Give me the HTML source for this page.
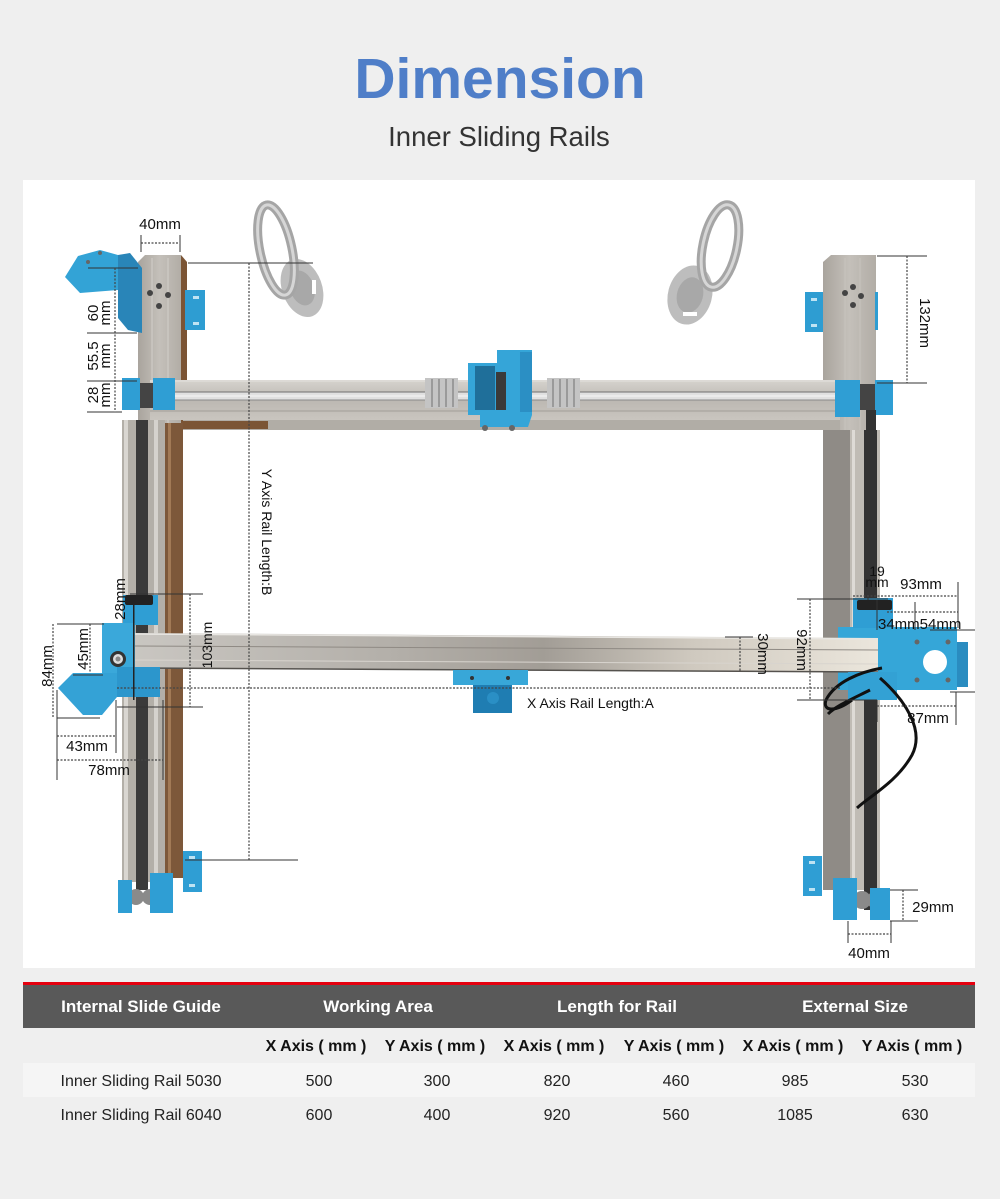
<!DOCTYPE html>
<html>
<head>
<meta charset="utf-8">
<style>
html,body{margin:0;padding:0;background:#efefef;}
body{width:1000px;height:1199px;overflow:hidden;}
svg{display:block;}
text{font-family:"Liberation Sans",Arial,sans-serif;}
</style>
</head>
<body>
<svg width="1000" height="1199" viewBox="0 0 1000 1199" xmlns="http://www.w3.org/2000/svg">
<defs>
<linearGradient id="railB" x1="0" y1="0" x2="1" y2="0">
<stop offset="0" stop-color="#c9c6c1"/>
<stop offset="0.35" stop-color="#b3afa9"/>
<stop offset="0.55" stop-color="#a29d96"/>
<stop offset="0.75" stop-color="#cfc9bf"/>
<stop offset="1" stop-color="#ebe6dc"/>
</linearGradient>
<linearGradient id="railT" x1="0" y1="0" x2="0" y2="1">
<stop offset="0" stop-color="#d6d3ce"/>
<stop offset="0.5" stop-color="#bcb8b2"/>
<stop offset="1" stop-color="#c9c5bf"/>
</linearGradient>
<linearGradient id="colL" x1="0" y1="0" x2="1" y2="0">
<stop offset="0" stop-color="#a9a49d"/>
<stop offset="0.5" stop-color="#c4c0ba"/>
<stop offset="1" stop-color="#b2ada6"/>
</linearGradient>
</defs>

<!-- Title -->
<text x="500" y="98" text-anchor="middle" font-size="57" font-weight="bold" fill="#4f7ec8">Dimension</text>
<text x="499" y="146" text-anchor="middle" font-size="27.5" fill="#333">Inner Sliding Rails</text>

<!-- White panel -->
<rect x="23" y="180" width="952" height="788" fill="#ffffff"/>

<!-- Mirror mounts (gray) -->
<ellipse cx="302" cy="288" rx="20" ry="30" transform="rotate(-20 302 288)" fill="#bdbdbd"/>
<ellipse cx="302" cy="288" rx="12" ry="18" transform="rotate(-20 302 288)" fill="#a8a8a8"/>
<rect x="312" y="280" width="4" height="14" fill="#fff"/>
<ellipse cx="276" cy="250" rx="16" ry="46" transform="rotate(-12 276 250)" fill="none" stroke="#a5a5a5" stroke-width="9"/>
<ellipse cx="276" cy="250" rx="16" ry="46" transform="rotate(-12 276 250)" fill="none" stroke="#d6d6d6" stroke-width="3"/>

<ellipse cx="690" cy="295" rx="22" ry="30" transform="rotate(15 690 295)" fill="#bdbdbd"/>
<ellipse cx="690" cy="295" rx="13" ry="18" transform="rotate(15 690 295)" fill="#a8a8a8"/>
<rect x="683" y="312" width="14" height="4" fill="#fff"/>
<ellipse cx="720" cy="246" rx="17" ry="42" transform="rotate(12 720 246)" fill="none" stroke="#a5a5a5" stroke-width="9"/>
<ellipse cx="720" cy="246" rx="17" ry="42" transform="rotate(12 720 246)" fill="none" stroke="#d6d6d6" stroke-width="3"/>

<!-- Left column top -->
<polygon points="138,262 145,255 181,255 181,430 138,430" fill="url(#colL)"/>
<polygon points="181,255 187,262 187,430 181,430" fill="#7b5535"/>
<line x1="152" y1="258" x2="152" y2="430" stroke="#d2cfca" stroke-width="1"/>
<line x1="168" y1="258" x2="168" y2="430" stroke="#d2cfca" stroke-width="1"/>
<circle cx="150" cy="293" r="3" fill="#444"/>
<circle cx="159" cy="286" r="3" fill="#444"/>
<circle cx="168" cy="295" r="3" fill="#444"/>
<circle cx="159" cy="306" r="3" fill="#444"/>

<!-- Left column lower -->
<rect x="122" y="420" width="43" height="462" fill="#b3afa8"/>
<rect x="124" y="420" width="4" height="462" fill="#d9d6d1"/>
<rect x="154" y="420" width="4" height="462" fill="#d5d2cd"/>
<rect x="136" y="420" width="12" height="470" fill="#3a3a3a"/>
<rect x="165" y="423" width="18" height="455" fill="#7d583a"/>
<rect x="168" y="423" width="3" height="455" fill="#a27a56"/>

<!-- Right column -->
<polygon points="823,262 831,255 876,255 876,430 823,430" fill="url(#colL)"/>
<line x1="845" y1="258" x2="845" y2="430" stroke="#c8c4be"/>
<line x1="860" y1="258" x2="860" y2="430" stroke="#c8c4be"/>
<circle cx="845" cy="293" r="3" fill="#444"/>
<circle cx="853" cy="287" r="3" fill="#444"/>
<circle cx="861" cy="296" r="3" fill="#444"/>
<circle cx="853" cy="305" r="3" fill="#444"/>
<rect x="823" y="430" width="27" height="460" fill="#8f8b86"/>
<rect x="850" y="430" width="30" height="460" fill="#c0bcb5"/>
<rect x="864" y="430" width="13" height="480" fill="#333"/>
<rect x="852" y="430" width="3" height="460" fill="#dedbd6"/>

<!-- Top X rail -->
<rect x="150" y="380" width="690" height="40" fill="url(#railT)"/>
<line x1="150" y1="381" x2="840" y2="381" stroke="#e4e2de"/>
<rect x="183" y="420" width="657" height="10" fill="#b1ada6"/>
<rect x="183" y="421" width="85" height="8" fill="#7b5535"/>
<rect x="150" y="392" width="690" height="8" fill="#e0e0e0"/>
<line x1="150" y1="392" x2="840" y2="392" stroke="#707070"/>
<line x1="150" y1="400" x2="840" y2="400" stroke="#8a8a8a"/>
<line x1="150" y1="396" x2="840" y2="396" stroke="#f6f6f6"/>
<line x1="150" y1="411" x2="840" y2="411" stroke="#a29e98"/>

<!-- Couplings -->
<rect x="425" y="378" width="33" height="30" fill="#c4c4c4"/>
<g stroke="#8d8d8d" stroke-width="1.5"><line x1="432" y1="379" x2="432" y2="407"/><line x1="439" y1="379" x2="439" y2="407"/><line x1="446" y1="379" x2="446" y2="407"/><line x1="453" y1="379" x2="453" y2="407"/></g>
<rect x="547" y="378" width="33" height="30" fill="#c4c4c4"/>
<g stroke="#8d8d8d" stroke-width="1.5"><line x1="553" y1="379" x2="553" y2="407"/><line x1="560" y1="379" x2="560" y2="407"/><line x1="567" y1="379" x2="567" y2="407"/><line x1="574" y1="379" x2="574" y2="407"/></g>

<!-- Top middle carriage -->
<polygon points="468,363 497,363 497,350 532,350 532,415 528,427 480,427 480,415 468,415" fill="#35a5d8"/>
<rect x="475" y="366" width="20" height="44" fill="#1f6f9a"/>
<rect x="496" y="372" width="10" height="38" fill="#3a3a3a"/>
<rect x="520" y="352" width="12" height="60" fill="#2b8fc4"/>
<circle cx="485" cy="428" r="3" fill="#666"/>
<circle cx="512" cy="428" r="3" fill="#666"/>

<!-- Top rail end blocks -->
<rect x="140" y="383" width="13" height="25" fill="#444"/>
<rect x="122" y="378" width="18" height="32" fill="#2f9ed4"/>
<rect x="153" y="378" width="22" height="32" fill="#2f9ed4"/>
<rect x="860" y="384" width="15" height="26" fill="#444"/>
<rect x="835" y="380" width="25" height="37" fill="#2f9ed4"/>
<rect x="875" y="380" width="18" height="35" fill="#2f9ed4"/>
<rect x="866" y="410" width="10" height="20" fill="#333"/>

<!-- Brackets -->
<rect x="185" y="290" width="20" height="40" fill="#2e9dd2"/>
<rect x="193" y="296" width="6" height="3" fill="#bfe3f3"/>
<rect x="193" y="322" width="6" height="3" fill="#bfe3f3"/>
<rect x="805" y="292" width="18" height="40" fill="#2e9dd2"/>
<rect x="811" y="298" width="6" height="3" fill="#bfe3f3"/>
<rect x="811" y="324" width="6" height="3" fill="#bfe3f3"/>
<rect x="875" y="292" width="3" height="38" fill="#2e9dd2"/>

<!-- Top-left mirror mount blue -->
<polygon points="65,277 78,256 100,250 118,255 118,290 80,293" fill="#33a3d6"/>
<polygon points="118,255 130,253 142,268 142,333 128,330 118,318" fill="#2985b8"/>
<circle cx="88" cy="262" r="2" fill="#666"/>
<circle cx="100" cy="253" r="2" fill="#666"/>

<!-- Bottom end parts left -->
<circle cx="136" cy="897" r="8" fill="#8a8a8a"/>
<circle cx="150" cy="897" r="8" fill="#8a8a8a"/>
<rect x="118" y="880" width="14" height="33" fill="#2f9ed4"/>
<rect x="150" y="873" width="23" height="40" fill="#2f9ed4"/>
<rect x="183" y="851" width="19" height="41" fill="#2f9ed4"/>
<rect x="189" y="856" width="6" height="3" fill="#bfe3f3"/>
<rect x="189" y="884" width="6" height="3" fill="#bfe3f3"/>

<!-- Bottom end parts right -->
<circle cx="862" cy="900" r="9" fill="#8a8a8a"/>
<circle cx="876" cy="900" r="9" fill="#8a8a8a"/>
<rect x="803" y="856" width="19" height="40" fill="#2f9ed4"/>
<rect x="809" y="861" width="6" height="3" fill="#bfe3f3"/>
<rect x="809" y="888" width="6" height="3" fill="#bfe3f3"/>
<rect x="833" y="878" width="24" height="42" fill="#2f9ed4"/>
<rect x="870" y="888" width="20" height="32" fill="#2f9ed4"/>

<!-- Right carriage plate -->
<rect x="838" y="627" width="119" height="63" fill="#35a6d8"/>
<rect x="957" y="642" width="11" height="45" fill="#2a8cc0"/>
<circle cx="935" cy="662" r="12" fill="#ffffff"/>
<circle cx="917" cy="642" r="2.5" fill="#666"/>
<circle cx="948" cy="642" r="2.5" fill="#666"/>
<circle cx="917" cy="680" r="2.5" fill="#666"/>
<circle cx="948" cy="680" r="2.5" fill="#666"/>
<rect x="853" y="598" width="40" height="30" fill="#2f9ed4"/>
<rect x="857" y="600" width="35" height="10" rx="2" fill="#222"/>

<!-- Bottom X rail -->
<polygon points="135,633 878,638 878,672 135,668" fill="url(#railB)"/>
<line x1="135" y1="634" x2="878" y2="639" stroke="#e8e6e2" stroke-width="1.5"/>
<line x1="135" y1="646" x2="878" y2="650" stroke="#8f8a84" stroke-width="1"/>
<line x1="135" y1="660" x2="878" y2="664" stroke="#d8d4ce" stroke-width="1"/>
<line x1="135" y1="668" x2="878" y2="672" stroke="#55524e" stroke-width="1.5"/>

<!-- Blue under rail right -->
<rect x="848" y="672" width="49" height="28" fill="#33a1d4"/>

<!-- Belt right -->
<path d="M 882 668 C 860 672 835 682 826 700 C 822 712 836 712 852 700" fill="none" stroke="#111" stroke-width="3"/>
<path d="M 880 678 C 905 700 925 730 912 755 C 897 782 870 796 857 808" fill="none" stroke="#111" stroke-width="3"/>
<path d="M 870 690 C 850 700 836 706 828 714" fill="none" stroke="#111" stroke-width="3"/>

<!-- Left lower carriage -->
<rect x="123" y="595" width="35" height="30" fill="#2f9ed4"/>
<rect x="125" y="595" width="28" height="10" rx="2" fill="#222"/>
<rect x="102" y="623" width="33" height="52" fill="#3aa8da"/>
<circle cx="118" cy="659" r="8" fill="#333"/>
<circle cx="118" cy="659" r="5" fill="#ddd"/>
<circle cx="118" cy="659" r="2.5" fill="#888"/>
<rect x="117" y="667" width="43" height="30" fill="#2c96cc"/>
<polygon points="58,688 73,673 117,673 117,697 102,715 83,715" fill="#34a2d6"/>
<rect x="133" y="595" width="1.5" height="105" fill="#222"/>

<!-- Small carriage bottom rail -->
<rect x="453" y="670" width="75" height="15" fill="#38a7d8"/>
<rect x="473" y="685" width="39" height="28" fill="#1f7db2"/>
<circle cx="493" cy="698" r="6" fill="#2a8fc5"/>
<circle cx="472" cy="678" r="2" fill="#333"/>
<circle cx="508" cy="678" r="2" fill="#333"/>

<!-- ===== Dimension lines ===== -->
<g stroke="#333" stroke-width="1" fill="none">
<!-- 40mm top -->
<line x1="141" y1="235" x2="141" y2="252"/>
<line x1="180" y1="235" x2="180" y2="252"/>
<!-- Y axis -->
<line x1="188" y1="263" x2="313" y2="263"/>
<line x1="185" y1="860" x2="298" y2="860"/>
<line x1="88" y1="268" x2="138" y2="268"/>
<!-- left top dims -->
<line x1="87" y1="333" x2="137" y2="333"/>
<line x1="87" y1="381" x2="137" y2="381"/>
<line x1="87" y1="412" x2="122" y2="412"/>
<!-- left lower -->
<line x1="130" y1="594" x2="203" y2="594"/>
<line x1="57" y1="624" x2="104" y2="624"/>
<line x1="57" y1="718" x2="100" y2="718"/>
<line x1="73" y1="675" x2="103" y2="675"/>
<line x1="117" y1="707" x2="203" y2="707"/>
<line x1="57" y1="690" x2="57" y2="780"/>
<line x1="116" y1="700" x2="116" y2="753"/>
<line x1="163" y1="700" x2="163" y2="780"/>
<!-- 30mm -->
<line x1="725" y1="637" x2="753" y2="637"/>
<!-- 132mm -->
<line x1="877" y1="256" x2="927" y2="256"/>
<line x1="877" y1="383" x2="927" y2="383"/>
<!-- right mid -->
<line x1="868" y1="582" x2="868" y2="600"/>
<line x1="877" y1="600" x2="877" y2="630"/>
<line x1="958" y1="582" x2="958" y2="628"/>
<line x1="915" y1="602" x2="915" y2="630"/>
<line x1="797" y1="599" x2="888" y2="599"/>
<line x1="930" y1="630" x2="975" y2="630"/>
<line x1="797" y1="700" x2="877" y2="700"/>
<line x1="950" y1="692" x2="975" y2="692"/>
<line x1="956" y1="692" x2="956" y2="725"/>
<line x1="877" y1="700" x2="877" y2="722"/>
<!-- 29mm / 40mm bottom -->
<line x1="890" y1="890" x2="918" y2="890"/>
<line x1="890" y1="921" x2="918" y2="921"/>
<line x1="848" y1="921" x2="848" y2="943"/>
<line x1="891" y1="921" x2="891" y2="943"/>
</g>
<g stroke="#444" stroke-width="1.2" fill="none" stroke-dasharray="2,1.5">
<line x1="141" y1="243" x2="180" y2="243"/>
<line x1="249" y1="263" x2="249" y2="860"/>
<line x1="115" y1="268" x2="115" y2="412"/>
<line x1="53" y1="624" x2="53" y2="718"/>
<line x1="90" y1="624" x2="90" y2="673"/>
<line x1="190" y1="594" x2="190" y2="707"/>
<line x1="57" y1="736" x2="116" y2="736"/>
<line x1="57" y1="760" x2="163" y2="760"/>
<line x1="117" y1="688" x2="840" y2="688"/>
<line x1="740" y1="637" x2="740" y2="672"/>
<line x1="907" y1="256" x2="907" y2="383"/>
<line x1="853" y1="596" x2="958" y2="596"/>
<line x1="887" y1="612" x2="958" y2="612"/>
<line x1="810" y1="599" x2="810" y2="700"/>
<line x1="877" y1="706" x2="956" y2="706"/>
<line x1="903" y1="890" x2="903" y2="921"/>
<line x1="848" y1="934" x2="891" y2="934"/>
</g>

<!-- Dimension texts -->
<g font-size="15" fill="#111">
<text x="160" y="229" text-anchor="middle">40mm</text>
<text transform="translate(98,313) rotate(-90)" text-anchor="middle">60</text>
<text transform="translate(110,313) rotate(-90)" text-anchor="middle">mm</text>
<text transform="translate(98,356) rotate(-90)" text-anchor="middle">55.5</text>
<text transform="translate(110,356) rotate(-90)" text-anchor="middle">mm</text>
<text transform="translate(98,395) rotate(-90)" text-anchor="middle">28</text>
<text transform="translate(110,395) rotate(-90)" text-anchor="middle">mm</text>
<text transform="translate(125,599) rotate(-90)" text-anchor="middle">28mm</text>
<text transform="translate(52,666) rotate(-90)" text-anchor="middle">84mm</text>
<text transform="translate(88,649) rotate(-90)" text-anchor="middle">45mm</text>
<text transform="translate(212,645) rotate(-90)" text-anchor="middle" font-size="14">103mm</text>
<text x="87" y="751" text-anchor="middle">43mm</text>
<text x="109" y="775" text-anchor="middle">78mm</text>
<text transform="translate(262,532) rotate(90)" text-anchor="middle" font-size="14">Y Axis Rail Length:B</text>
<text x="527" y="708" font-size="14">X Axis Rail Length:A</text>
<text transform="translate(758,654) rotate(90)" text-anchor="middle">30mm</text>
<text transform="translate(797,650) rotate(90)" text-anchor="middle">92mm</text>
<text transform="translate(920,323) rotate(90)" text-anchor="middle">132mm</text>
<text x="877" y="576" text-anchor="middle" font-size="14">19</text>
<text x="877" y="587" text-anchor="middle" font-size="14">mm</text>
<text x="921" y="589" text-anchor="middle">93mm</text>
<text x="878" y="629">34mm54mm</text>
<text x="928" y="723" text-anchor="middle">87mm</text>
<text x="933" y="912" text-anchor="middle">29mm</text>
<text x="869" y="958" text-anchor="middle">40mm</text>
</g>

<!-- ===== Table ===== -->
<rect x="23" y="982" width="952" height="3" fill="#e5000f"/>
<rect x="23" y="985" width="952" height="43" fill="#595959"/>
<rect x="23" y="1063" width="952" height="34" fill="#f5f5f5"/>
<g font-size="17" font-weight="bold" fill="#ffffff" text-anchor="middle">
<text x="141" y="1012">Internal Slide Guide</text>
<text x="378" y="1012">Working Area</text>
<text x="617" y="1012">Length for Rail</text>
<text x="855" y="1012">External Size</text>
</g>
<g font-size="16" font-weight="bold" fill="#111" text-anchor="middle">
<text x="316" y="1051">X Axis ( mm )</text>
<text x="435" y="1051">Y Axis ( mm )</text>
<text x="554" y="1051">X Axis ( mm )</text>
<text x="674" y="1051">Y Axis ( mm )</text>
<text x="793" y="1051">X Axis ( mm )</text>
<text x="912" y="1051">Y Axis ( mm )</text>
</g>
<g font-size="16" fill="#222" text-anchor="middle">
<text x="141" y="1086">Inner Sliding Rail 5030</text>
<text x="319" y="1086">500</text>
<text x="437" y="1086">300</text>
<text x="557" y="1086">820</text>
<text x="676" y="1086">460</text>
<text x="795" y="1086">985</text>
<text x="915" y="1086">530</text>
<text x="141" y="1120">Inner Sliding Rail 6040</text>
<text x="319" y="1120">600</text>
<text x="437" y="1120">400</text>
<text x="557" y="1120">920</text>
<text x="676" y="1120">560</text>
<text x="795" y="1120">1085</text>
<text x="915" y="1120">630</text>
</g>
</svg>
</body>
</html>
